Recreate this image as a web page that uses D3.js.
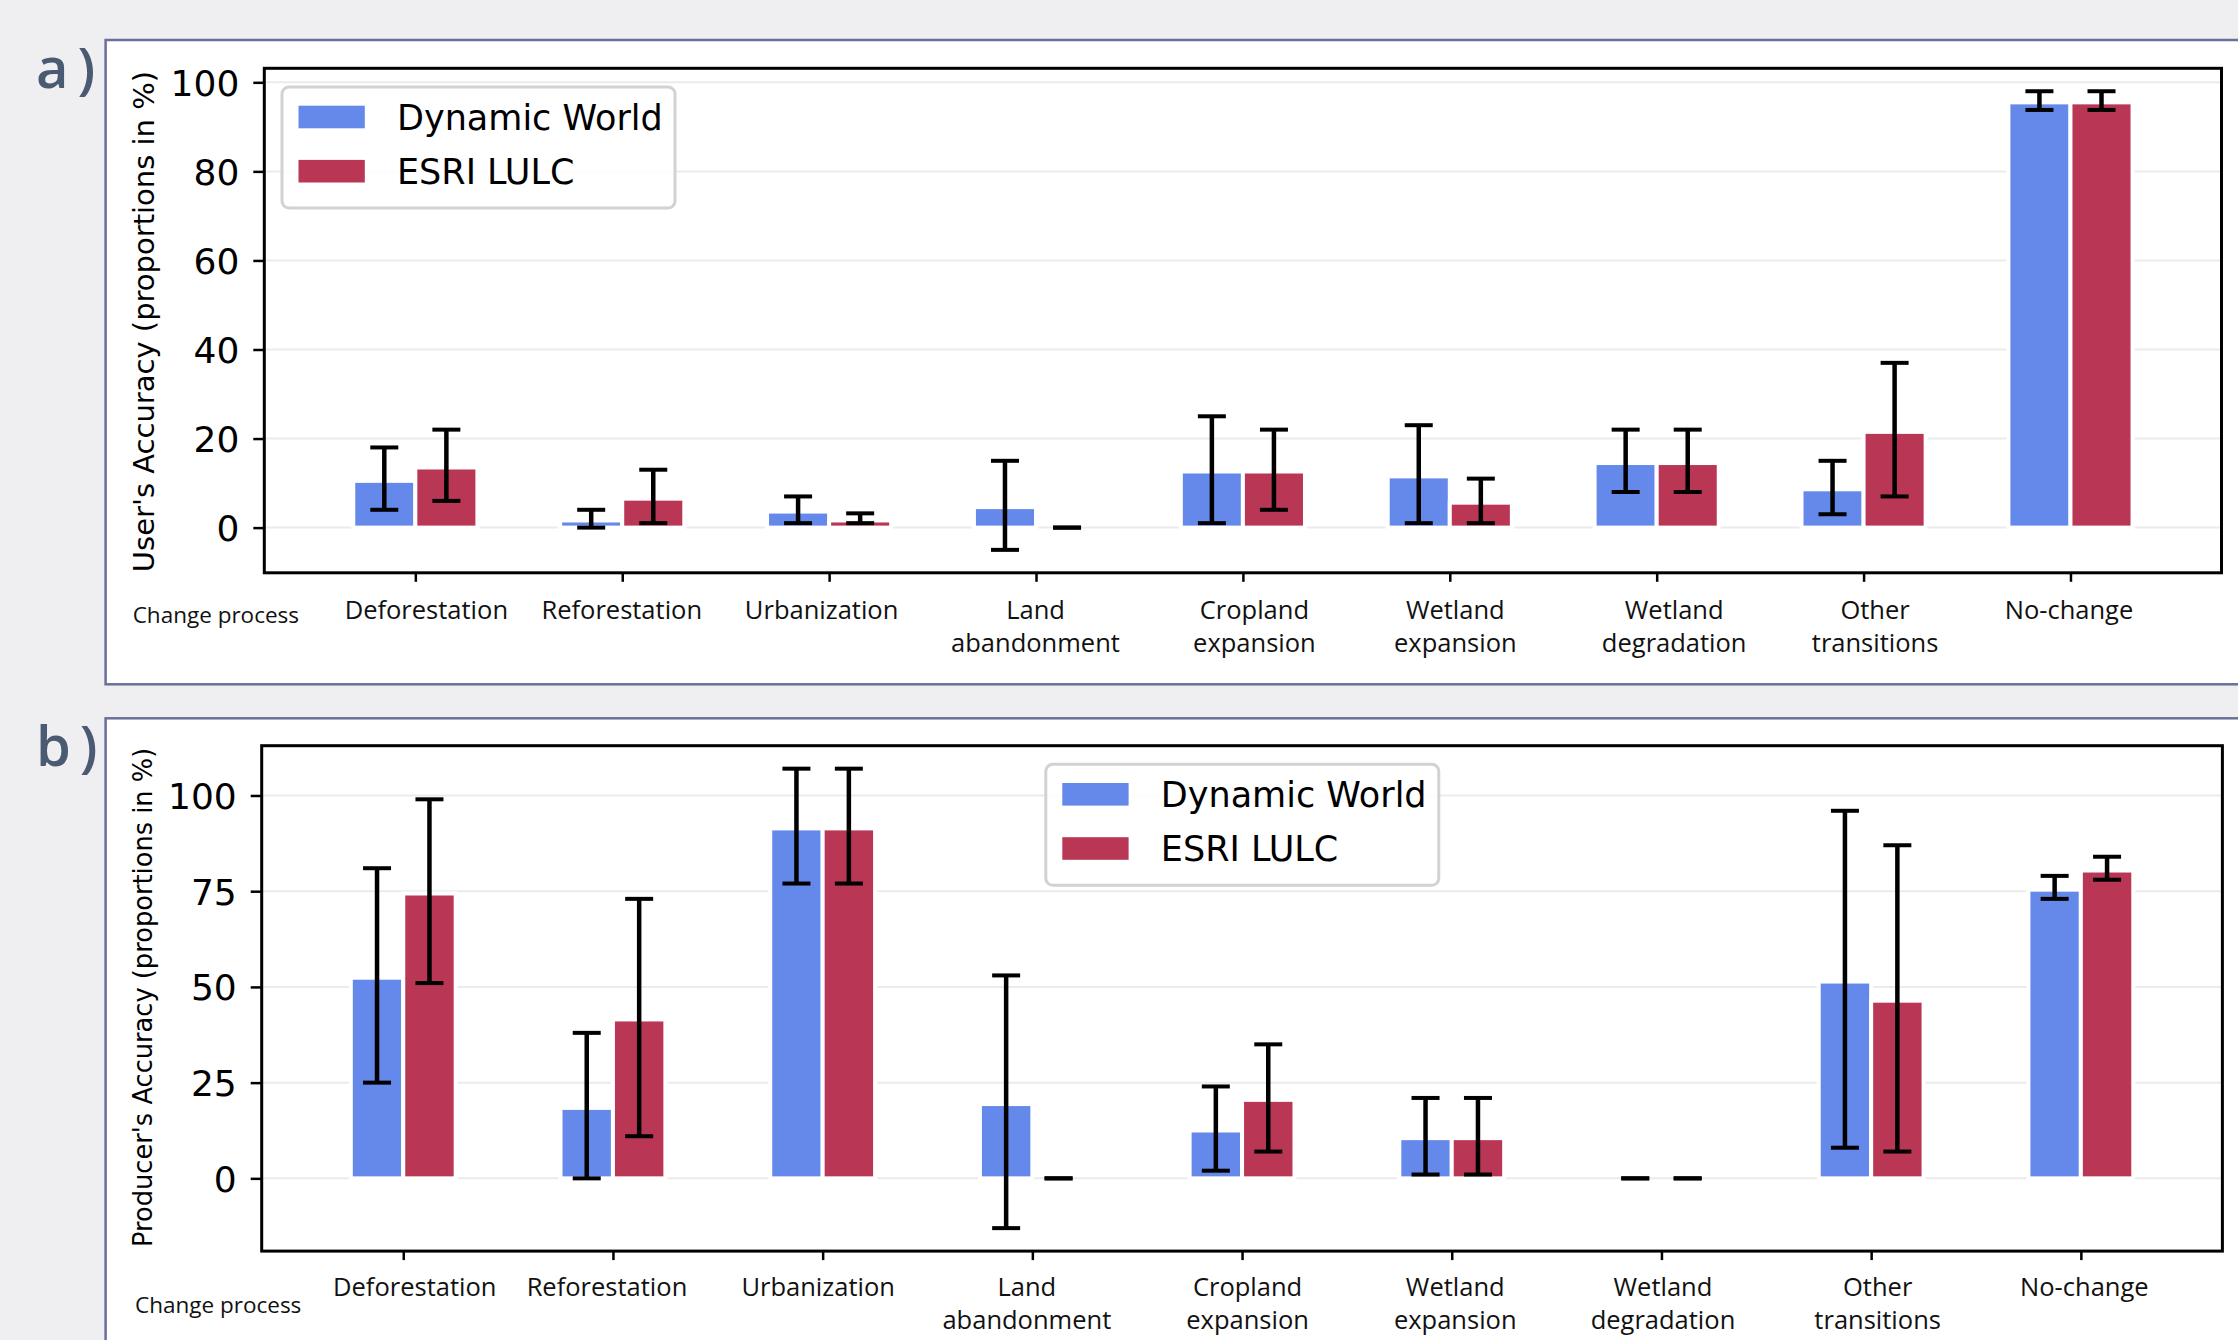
<!DOCTYPE html>
<html>
<head>
<meta charset="utf-8">
<script src="https://cdnjs.cloudflare.com/ajax/libs/d3/7.8.5/d3.min.js"></script>
<style>
  html, body { margin: 0; padding: 0; background: #efeff1; }
  svg { display: block; }
</style>
</head>
<body>
<svg id="chart" width="2238" height="1340"></svg>
<script>
// ---------------- DATA ----------------
const categories = ["Deforestation", "Reforestation", "Urbanization", "Land\nabandonment",
  "Cropland\nexpansion", "Wetland\nexpansion", "Wetland\ndegradation", "Other\ntransitions", "No-change"];
const seriesNames = ["Dynamic World", "ESRI LULC"];

// a) User's accuracy
const uaDW      = [10.5, 1.6, 3.6, 4.6, 12.6, 11.5, 14.5, 8.6, 95.5];
const uaDWLow   = [4, 0, 1, -5, 1, 1, 8, 3, 93.8];
const uaDWHigh  = [18, 4, 7, 15, 25, 23, 22, 15, 98];
const uaESRI     = [13.5, 6.5, 1.6, 0, 12.6, 5.6, 14.5, 21.5, 95.5];
const uaESRILow  = [6, 1, 1, 0, 4, 1, 8, 7, 93.8];
const uaESRIHigh = [22, 13, 3.2, 0, 22, 11, 22, 37, 98];
const uaTicks = [0, 20, 40, 60, 80, 100];

// b) Producer's accuracy
const paDW      = [52.4, 18.4, 91.4, 19.4, 12.5, 10.5, 0, 51.4, 75.4];
const paDWLow   = [25, 0, 77, -13, 2, 1, 0, 8, 73];
const paDWHigh  = [81, 38, 107, 53, 24, 21, 0, 96, 79];
const paESRI     = [74.4, 41.5, 91.4, 0, 20.5, 10.5, 0, 46.4, 80.4];
const paESRILow  = [51, 11, 77, 0, 7, 1, 0, 7, 78];
const paESRIHigh = [99, 73, 107, 0, 35, 21, 0, 87, 84];
const paTicks = [0, 25, 50, 75, 100];

// ---------------- STYLE ----------------
const colors = ["#6489ea", "#b93655"];
const svg = d3.select("#chart");
const panelStroke = "#6b6f9c";

function drawPanel(cfg) {
  // panel card
  svg.append("rect")
    .attr("x", 105.6).attr("y", cfg.panelTop)
    .attr("width", 2300).attr("height", cfg.panelH)
    .attr("fill", "#ffffff").attr("stroke", panelStroke).attr("stroke-width", 2.5);

  svg.append("text")
    .attr("x", 36).attr("y", cfg.labelY)
    .attr("font-family", "'Open Sans', sans-serif").attr("font-weight", 600)
    .attr("font-size", 56).attr("fill", "#4a5a72").attr("letter-spacing", 9)
    .text(cfg.letter);

  const x = d3.scaleLinear().domain(cfg.xDomain).range([cfg.left, cfg.right]);
  const y = d3.scaleLinear().domain(cfg.yDomain).range([cfg.bottom, cfg.top]);
  const g = svg.append("g");

  // grid
  g.selectAll("line.grid").data(cfg.ticks).enter().append("line")
    .attr("x1", cfg.left).attr("x2", cfg.right)
    .attr("y1", d => y(d)).attr("y2", d => y(d))
    .attr("stroke", "#ebebeb").attr("stroke-width", 2);

  const w = cfg.barW;
  const series = [
    {vals: cfg.dw, lo: cfg.dwLo, hi: cfg.dwHi, off: -w / 2, color: colors[0]},
    {vals: cfg.es, lo: cfg.esLo, hi: cfg.esHi, off: w / 2, color: colors[1]}
  ];
  series.forEach(s => {
    g.selectAll(null).data(s.vals).enter().append("rect")
      .attr("x", (d, i) => x(i + s.off - w / 2))
      .attr("width", (d, i) => x(i + s.off + w / 2) - x(i + s.off - w / 2))
      .attr("y", d => y(Math.max(0, d)))
      .attr("height", d => Math.abs(y(0) - y(d)))
      .attr("fill", s.color).attr("stroke", "#ffffff").attr("stroke-width", 4);
  });
  series.forEach(s => {
    const eg = g.append("g").attr("stroke", "#000").attr("stroke-linecap", "butt");
    s.vals.forEach((v, i) => {
      const cx = x(i + s.off);
      if (s.hi[i] !== s.lo[i]) {
        eg.append("line").attr("x1", cx).attr("x2", cx)
          .attr("y1", y(s.lo[i])).attr("y2", y(s.hi[i])).attr("stroke-width", 4.5);
      }
      [s.lo[i], s.hi[i]].forEach(e => {
        eg.append("line").attr("x1", cx - 14).attr("x2", cx + 14)
          .attr("y1", y(e)).attr("y2", y(e)).attr("stroke-width", 4);
      });
    });
  });

  // axes
  const yAxis = d3.axisLeft(y).tickValues(cfg.ticks).tickSize(11).tickPadding(14);
  const ya = svg.append("g").attr("transform", `translate(${cfg.left},0)`).call(yAxis);
  ya.select(".domain").remove();
  ya.selectAll(".tick line").attr("stroke", "#000").attr("stroke-width", 2.5);
  ya.selectAll(".tick text").attr("font-family", "'DejaVu Sans', sans-serif")
    .attr("font-size", 36).attr("fill", "#000").attr("dy", "0.36em");

  const xAxis = d3.axisBottom(x).tickValues(d3.range(categories.length)).tickSize(9).tickFormat("");
  const xa = svg.append("g").attr("transform", `translate(0,${cfg.bottom})`).call(xAxis);
  xa.select(".domain").remove();
  xa.selectAll(".tick line").attr("stroke", "#000").attr("stroke-width", 2.5);
  xa.selectAll(".tick").each(function (d) {
    const lines = categories[d].split("\n");
    const t = d3.select(this).append("text")
      .attr("font-family", "'Open Sans', sans-serif").attr("font-size", 25.5)
      .attr("fill", "#111").attr("text-anchor", "middle");
    lines.forEach((ln, k) => {
      t.append("tspan").attr("x", cfg.labelShift[d]).attr("y", cfg.xLabelDy + k * 33.5).text(ln);
    });
  });

  // frame
  svg.append("rect")
    .attr("x", cfg.left).attr("y", cfg.top)
    .attr("width", cfg.right - cfg.left).attr("height", cfg.bottom - cfg.top)
    .attr("fill", "none").attr("stroke", "#000").attr("stroke-width", 3);

  // axis titles
  svg.append("text")
    .attr("transform", `translate(${cfg.yTitleX},${(cfg.top + cfg.bottom) / 2 + cfg.yTitleShift}) rotate(-90)`)
    .attr("text-anchor", "middle")
    .attr("font-family", "'DejaVu Sans', sans-serif").attr("font-size", cfg.yTitleSize)
    .attr("fill", "#000").text(cfg.yTitle);

  svg.append("text")
    .attr("x", cfg.cpX).attr("y", cfg.cpY)
    .attr("font-family", "'Open Sans', sans-serif").attr("font-size", 22.5)
    .attr("fill", "#111").text("Change process");

  // legend
  const L = cfg.legend;
  const lg = svg.append("g");
  lg.append("rect").attr("x", L.x).attr("y", L.y).attr("width", 393).attr("height", 121)
    .attr("rx", 7).attr("fill", "#ffffff").attr("fill-opacity", 0.85)
    .attr("stroke", "#d2d2d2").attr("stroke-width", 3);
  seriesNames.forEach((name, k) => {
    const cy = L.y + 30 + k * 54.2;
    lg.append("rect").attr("x", L.x + 16.5).attr("y", cy - 11.3)
      .attr("width", 66.3).attr("height", 22.6).attr("fill", colors[k]);
    lg.append("text").attr("x", L.x + 115).attr("y", cy + 12.8)
      .attr("font-family", "'DejaVu Sans', sans-serif").attr("font-size", 35)
      .attr("fill", "#000").text(name);
  });
}

drawPanel({
  letter: "a)", panelTop: 40, panelH: 644.3, labelY: 88,
  left: 264.3, right: 2221.5, top: 68.3, bottom: 572.8,
  xDomain: [-0.73, 8.73], yDomain: [-10.15, 103.15], barW: 0.3,
  ticks: uaTicks,
  dw: uaDW, dwLo: uaDWLow, dwHi: uaDWHigh, es: uaESRI, esLo: uaESRILow, esHi: uaESRIHigh,
  xLabelDy: 46, labelShift: [10.5, -1, -8, -1, 11, 5, 17, 11, -2],
  yTitle: "User's Accuracy (proportions in %)", yTitleX: 153.5, yTitleSize: 29,
  yTitleShift: 1, cpX: 132.7, cpY: 622.7,
  legend: {x: 282, y: 87}
});

drawPanel({
  letter: "b)", panelTop: 718.3, panelH: 700, labelY: 766,
  left: 261.7, right: 2222.4, top: 745.7, bottom: 1251.1,
  xDomain: [-0.675, 8.675], yDomain: [-19, 113], barW: 0.25,
  ticks: paTicks,
  dw: paDW, dwLo: paDWLow, dwHi: paDWHigh, es: paESRI, esLo: paESRILow, esHi: paESRIHigh,
  xLabelDy: 44.5, labelShift: [11, -6.5, -5, -6, 5, 3, 1, 6, 3],
  yTitle: "Producer's Accuracy (proportions in %)", yTitleX: 152.3, yTitleSize: 25.7,
  yTitleShift: -1, cpX: 135, cpY: 1313.3,
  legend: {x: 1045.8, y: 764.3}
});
</script>
</body>
</html>
